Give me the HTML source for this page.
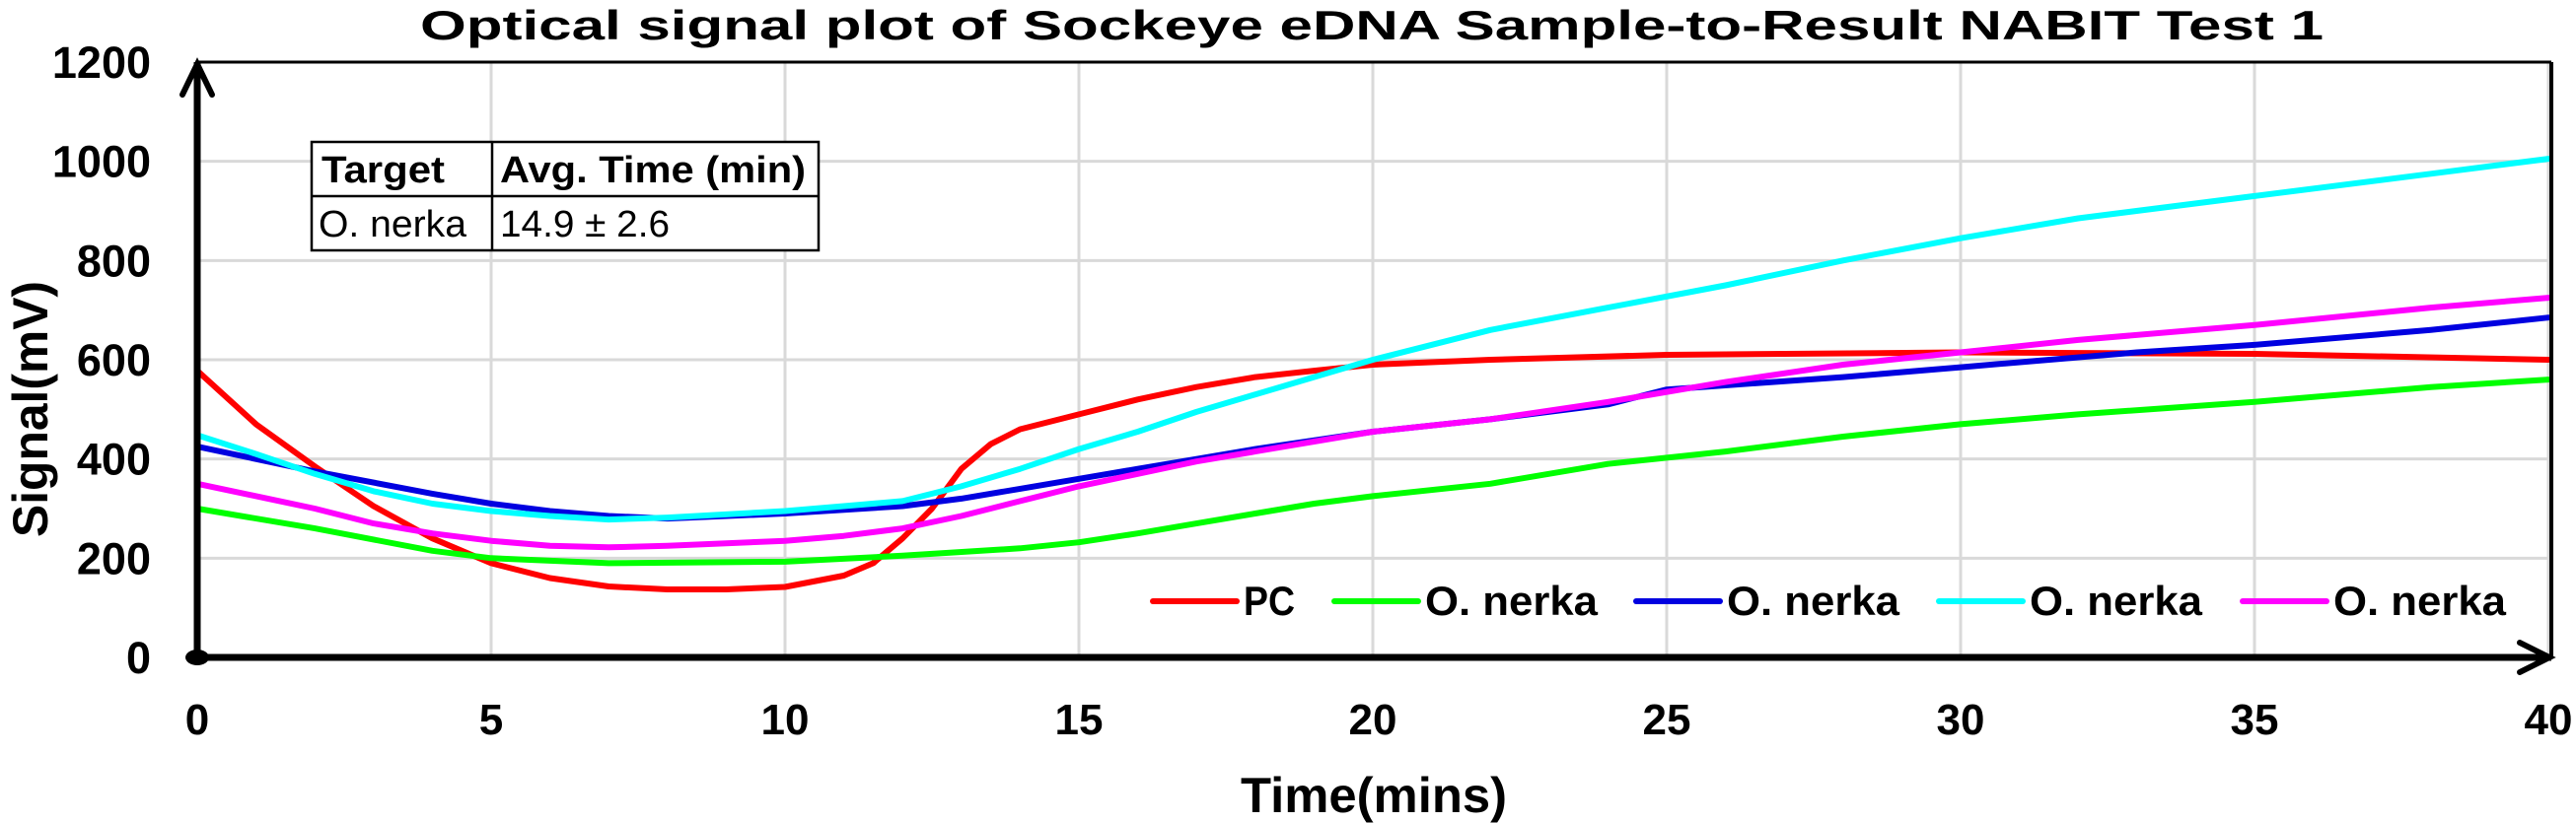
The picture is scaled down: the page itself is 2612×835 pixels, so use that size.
<!DOCTYPE html>
<html><head><meta charset="utf-8"><style>
html,body{margin:0;padding:0;background:#fff;}
svg{display:block;font-family:"Liberation Sans",sans-serif;}
</style></head><body>
<svg id="chart" width="2612" height="835" viewBox="0 0 2612 835" xmlns="http://www.w3.org/2000/svg">
<g id="grid"></g>
<g id="series"></g>
<g id="axes"></g>
<g id="labels"></g>
<text x="1391" y="40" text-anchor="middle" font-weight="bold" font-size="42" textLength="1930" lengthAdjust="spacingAndGlyphs">Optical signal plot of Sockeye eDNA Sample-to-Result NABIT Test 1</text>
<text transform="translate(48,415) rotate(-90)" text-anchor="middle" font-weight="bold" font-size="50" textLength="260" lengthAdjust="spacingAndGlyphs">Signal(mV)</text>
<text x="1393" y="824" text-anchor="middle" font-weight="bold" font-size="50" textLength="270" lengthAdjust="spacingAndGlyphs">Time(mins)</text>
<g>
<rect x="316" y="144" width="514" height="110" fill="#fff" stroke="#000" stroke-width="2.5"/>
<line x1="316" y1="199" x2="830" y2="199" stroke="#000" stroke-width="2.5"/>
<line x1="499" y1="144" x2="499" y2="254" stroke="#000" stroke-width="2.5"/>
<text x="326" y="185" font-weight="bold" font-size="38" textLength="125" lengthAdjust="spacingAndGlyphs">Target</text>
<text x="507" y="185" font-weight="bold" font-size="38" textLength="310" lengthAdjust="spacingAndGlyphs">Avg. Time (min)</text>
<text x="323" y="240" font-size="38" textLength="150" lengthAdjust="spacingAndGlyphs">O. nerka</text>
<text x="507" y="240" font-size="38" textLength="172" lengthAdjust="spacingAndGlyphs">14.9 ± 2.6</text>
</g>
<g id="legend"></g>
</svg>
<script>
const xTicks = [0,5,10,15,20,25,30,35,40];
const yTicks = [0,200,400,600,800,1000,1200];
const seriesNames = ["PC","O. nerka","O. nerka","O. nerka","O. nerka"];
const seriesColors = ["#ff0000","#00ff00","#0000e0","#00ffff","#ff00ff"];
const pcT = [0,1,2,3,4,5,6,7,8,9,10,11,11.5,12,12.5,13,13.5,14,15,16,17,18,19,20,22,25,30,35,40];
const pcV = [578,470,385,305,240,190,160,143,137,137,142,165,190,240,300,380,430,460,490,520,545,565,578,590,600,610,615,612,600];
const greenT = [0,2,4,5,7,10,12,14,15,16,17,18,19,20,22,24,26,28,30,32,35,38,40];
const greenV = [300,260,215,200,190,193,205,220,232,250,270,290,310,325,350,390,415,445,470,490,515,545,560];
const blueT = [0,2,4,5,6,7,8,10,12,13,14,15,16,17,18,20,22,24,25,28,30,33,35,38,40];
const blueV = [425,375,330,310,295,285,280,290,305,320,340,360,380,400,420,455,480,510,540,565,585,615,630,660,685];
const cyanT = [0,1,2,3,4,5,6,7,8,10,11,12,13,14,15,16,17,18,19,20,22,24,26,28,30,32,35,38,40];
const cyanV = [448,410,370,335,310,295,285,278,282,295,305,315,345,380,420,455,495,530,565,600,660,705,750,800,845,885,930,975,1005];
const magT = [0,2,3,4,5,6,7,8,10,11,12,13,14,15,16,17,18,20,22,24,26,28,30,32,35,38,40];
const magV = [350,300,270,250,235,225,222,225,235,245,260,285,315,345,370,395,415,455,480,515,555,590,615,640,670,705,725];

const X0=200, X1=2584, Y0=667, Y1=63;
function xs(t){return X0+(t/40)*(X1-X0);}
function ys(v){return Y0-(v/1200)*(Y0-Y1);}
const NS="http://www.w3.org/2000/svg";
function mk(tag,parent,attrs){const e=document.createElementNS(NS,tag);for(const k in attrs)e.setAttribute(k,attrs[k]);parent.appendChild(e);return e;}
const grid=document.getElementById('grid'), series=document.getElementById('series'), axes=document.getElementById('axes'), labels=document.getElementById('labels'), legend=document.getElementById('legend');

xTicks.forEach(t=>{
  const l=mk('line',grid,{x1:xs(t),y1:Y1,x2:xs(t),y2:Y0,stroke:'#d9d9d9','stroke-width':3});
  
  
  const tx=mk('text',labels,{x:xs(t),y:745,'text-anchor':'middle','font-weight':'bold','font-size':44});
  tx.textContent=t;
  
  
});
yTicks.forEach(v=>{
  const l=mk('line',grid,{x1:X0,y1:ys(v),x2:X1,y2:ys(v),stroke:'#d9d9d9','stroke-width':3});
  
  
  const tx=mk('text',labels,{x:153,y:ys(v)+16,'text-anchor':'end','font-weight':'bold','font-size':45});
  tx.textContent=v;
  
  
});

const allT=[pcT,greenT,blueT,cyanT,magT], allV=[pcV,greenV,blueV,cyanV,magV];
allT.forEach((T,i)=>{
  const d=T.map((t,j)=>(j?'L':'M')+xs(t).toFixed(1)+','+ys(allV[i][j]).toFixed(1)).join(' ');
  const p=mk('path',series,{d:d,fill:'none',stroke:seriesColors[i],'stroke-width':6,'stroke-linejoin':'round','stroke-linecap':'round'});
  
  
});

// frame & axes
mk('line',axes,{x1:X0,y1:Y1,x2:2587,y2:Y1,stroke:'#000','stroke-width':3});
mk('line',axes,{x1:2587,y1:Y1,x2:2587,y2:Y0,stroke:'#000','stroke-width':4});
mk('line',axes,{x1:X0,y1:Y0,x2:2587,y2:Y0,stroke:'#000','stroke-width':7});
mk('line',axes,{x1:X0,y1:Y0,x2:X0,y2:Y1,stroke:'#000','stroke-width':7});
mk('path',axes,{d:'M185,96 L200,65 L215,96',fill:'none',stroke:'#000','stroke-width':6,'stroke-linecap':'round'});
mk('path',axes,{d:'M2555,652 L2585,667 L2555,682',fill:'none',stroke:'#000','stroke-width':6,'stroke-linecap':'round'});
mk('ellipse',axes,{cx:X0,cy:Y0,rx:12,ry:8,fill:'#000'});

const legX=[1169,1353,1659,1966,2274];
const legW=[52,175,175,175,175];
seriesNames.forEach((n,i)=>{
  const l=mk('line',legend,{x1:legX[i],y1:610,x2:legX[i]+85,y2:610,stroke:seriesColors[i],'stroke-width':6,'stroke-linecap':'round'});
  
  
  const tx=mk('text',legend,{x:legX[i]+92,y:624,'font-weight':'bold','font-size':42,textLength:legW[i],lengthAdjust:'spacingAndGlyphs'});
  tx.textContent=n;
  
  
});
</script>
</body></html>
